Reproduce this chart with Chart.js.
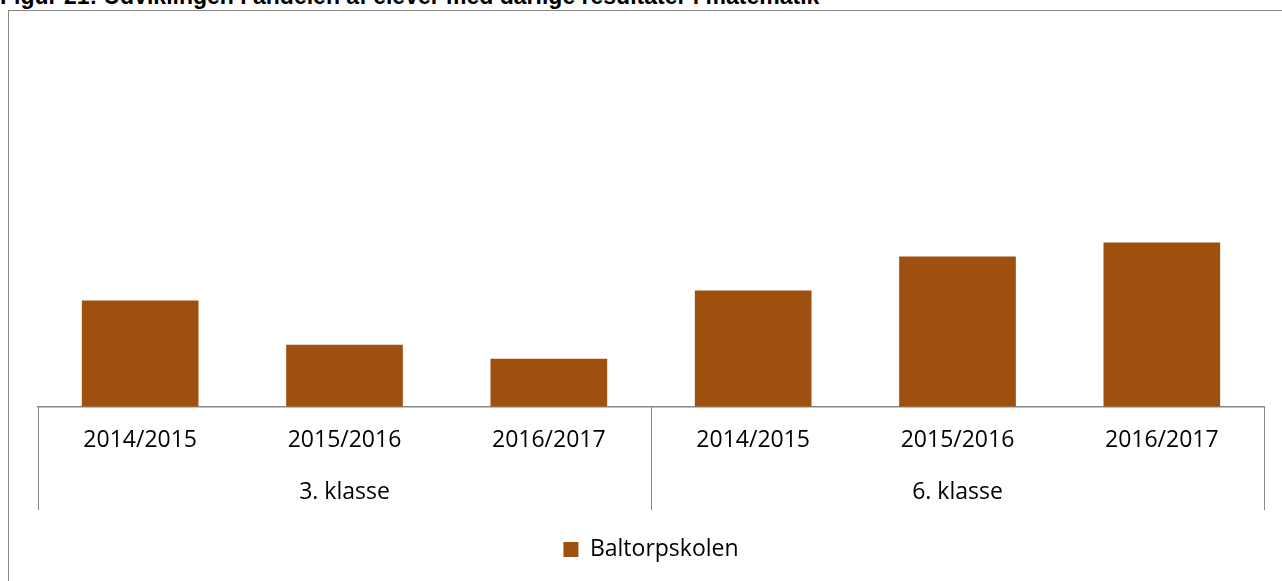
<!DOCTYPE html>
<html>
<head>
<meta charset="utf-8">
<script src="https://cdn.jsdelivr.net/npm/chart.js@4.4.1/dist/chart.umd.min.js"></script>
<style>
  body { margin: 0; background: #fff; overflow: hidden; }
  #title {
    position: absolute; left: 0; top: -15px;
    font: bold 23px "Liberation Sans", Arial, sans-serif; line-height: 23px;
    white-space: nowrap; color: #000;
  }
  #frame {
    position: absolute; left: 8px; top: 10px; width: 1300px; height: 600px;
    border: 1px solid #888;
  }
  #wrap { position: absolute; left: 0; top: 0; width: 1282px; height: 581px; }
</style>
</head>
<body>
<div id="title">Figur 21: Udviklingen i andelen af elever med dårlige resultater i matematik</div>
<div id="frame"></div>
<div id="wrap"><canvas id="chart"></canvas></div>
<script>
// data
const years = ["2014/2015", "2015/2016", "2016/2017", "2014/2015", "2015/2016", "2016/2017"];
const groups = ["3. klasse", "6. klasse"];
const groupSizes = [3, 3];
const seriesName = "Baltorpskolen";
const values = [5.3, 3.1, 2.4, 5.8, 7.5, 8.2];

const barColor = "#9f4f0e";
const lineColor = "#888888";
const labelFont = { family: "'Open Sans', sans-serif", size: 23 };

// lines between the groups, from the axis line down through both label rows
const groupLines = {
  id: "groupLines",
  afterDraw(chart) {
    const x = chart.scales.x;
    const g = chart.scales.groups;
    const ctx = chart.ctx;
    const bounds = [-0.5];
    let n = 0;
    groupSizes.forEach(s => { n += s; bounds.push(n - 0.5); });
    ctx.save();
    ctx.strokeStyle = lineColor;
    ctx.lineWidth = 1;
    bounds.forEach(v => {
      const px = Math.round(x.getPixelForValue(v)) + 0.5;
      ctx.beginPath();
      ctx.moveTo(px, x.top);
      ctx.lineTo(px, g.bottom);
      ctx.stroke();
    });
    ctx.restore();
  }
};

new Chart(document.getElementById("chart"), {
  type: "bar",
  data: {
    labels: years,
    datasets: [{
      label: seriesName,
      data: values,
      backgroundColor: barColor,
      borderWidth: 0,
      barPercentage: 0.571,
      categoryPercentage: 1
    }]
  },
  options: {
    responsive: true,
    maintainAspectRatio: false,
    animation: false,
    layout: { padding: { left: 38, right: 18, top: 46, bottom: 10 } },
    scales: {
      x: {
        offset: true,
        grid: { display: false, drawTicks: false },
        border: { display: true, color: lineColor, width: 1.5 },
        ticks: { color: "#000", font: labelFont, padding: 20, maxRotation: 0, autoSkip: false }
      },
      groups: {
        type: "category",
        labels: groups,
        position: "bottom",
        offset: true,
        grid: { display: false, drawTicks: false },
        border: { display: false },
        ticks: { color: "#000", font: labelFont, padding: 4, maxRotation: 0 }
      },
      y: { display: false, min: 0, max: 18 }
    },
    plugins: {
      legend: {
        position: "bottom",
        labels: { color: "#000", font: labelFont, boxWidth: 15, boxHeight: 15, padding: 28 }
      },
      tooltip: { enabled: false }
    }
  },
  plugins: [groupLines]
});
</script>
</body>
</html>
